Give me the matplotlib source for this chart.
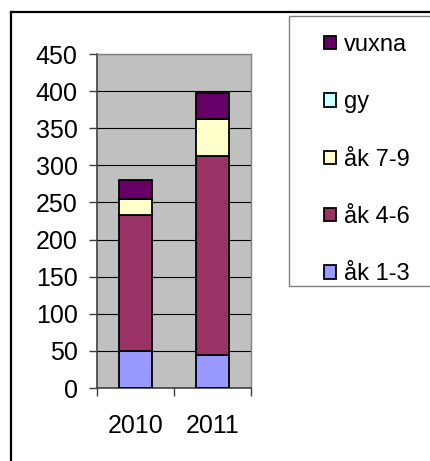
import matplotlib
matplotlib.use('Agg')
import matplotlib.pyplot as plt
from matplotlib.patches import Rectangle
from matplotlib.lines import Line2D
import numpy as np

plt.rcParams['font.family'] = ['Liberation Sans', 'DejaVu Sans']

# data
years = ['2010', '2011']
series = ['åk 1-3', 'åk 4-6', 'åk 7-9', 'gy', 'vuxna']
ak13 = [50, 45]
ak46 = [183, 267]
ak79 = [22, 51]
gy = [0, 0]
vuxna = [25, 34]
colors = ['#9999FF', '#993366', '#FFFFCC', '#CCFFFF', '#660066']

W, H = 430, 461
fig = plt.figure(figsize=(W / 100, H / 100), dpi=100)

def px(x0, y0, x1, y1):
    # pixel box (top-left origin) -> figure fraction
    return [x0 / W, 1 - y1 / H, (x1 - x0) / W, (y1 - y0) / H]

# outer frame (only left/top visible)
fig.add_artist(Line2D([11 / W, 11 / W], [0, 1 - 12 / H], color='black', lw=1.6,
                      transform=fig.transFigure))
fig.add_artist(Line2D([11 / W, 1], [1 - 12 / H, 1 - 12 / H], color='black', lw=1.6,
                      transform=fig.transFigure))

ax = fig.add_axes(px(97, 54, 251, 388))
ax.set_facecolor('#C0C0C0')

x = np.arange(len(years))
bottom = np.zeros(len(years))
bars = []
for name, vals, c in zip(series, [ak13, ak46, ak79, gy, vuxna], colors):
    b = ax.bar(x, vals, 0.42, bottom=bottom, color=c, edgecolor='black',
               linewidth=1.3, label=name, zorder=3)
    bars.append(b)
    bottom += np.array(vals)

ax.set_xlim(-0.5, 1.5)
ax.set_ylim(0, 450)
ax.set_yticks(np.arange(0, 451, 50))
ax.yaxis.grid(True, color='black', lw=0.8, zorder=1)
ax.set_axisbelow(True)

ax.set_xticks(x)
ax.set_xticklabels(years)
ax.set_xticks([-0.5, 0.5, 1.5], minor=True)
ax.tick_params(axis='x', which='major', length=0, pad=19, labelsize=18)
ax.tick_params(axis='x', which='minor', length=6, width=1, color='#404040')
ax.tick_params(axis='y', length=6, width=1, color='#404040', pad=8, labelsize=18)

for s in ['top', 'right']:
    ax.spines[s].set_color('#808080')
    ax.spines[s].set_linewidth(1)
ax.spines['left'].set_color('#404040')
ax.spines['left'].set_linewidth(1.2)
ax.spines['bottom'].set_color('#404040')
ax.spines['bottom'].set_linewidth(1.2)

# legend box
fig.add_artist(Rectangle((289 / W, 1 - 286 / H), (W + 5 - 289) / W, (286 - 16) / H,
                         transform=fig.transFigure, facecolor='white',
                         edgecolor='#808080', lw=1))
handles = [b.patches[0] for b in bars][::-1]
leg = fig.legend(handles, series[::-1], loc='upper left',
                 bbox_to_anchor=(312 / W, 1 - 22 / H), frameon=False,
                 fontsize=17, handlelength=0.5, handleheight=0.5,
                 handletextpad=0.35, labelspacing=1.5, borderpad=0)
for h in leg.legend_handles:
    h.set_linewidth(1.3)

fig.savefig('out.png', dpi=100)
